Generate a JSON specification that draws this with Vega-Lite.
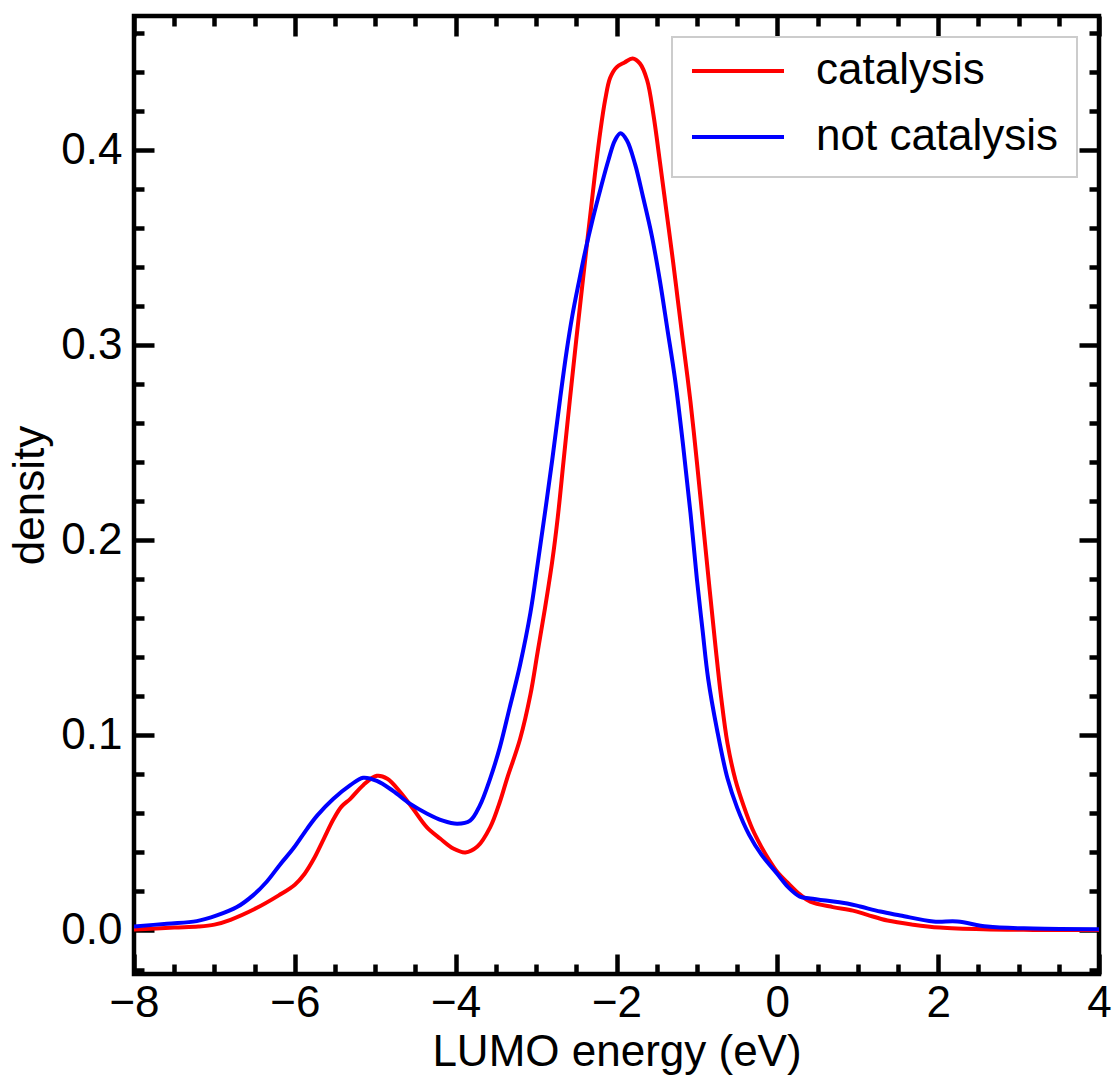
{
  "$schema": "https://vega.github.io/schema/vega-lite/v6.json",
  "width": 965,
  "height": 958,
  "autosize": "none",
  "padding": {"left": 134, "top": 16, "right": 16, "bottom": 104},
  "background": "white",
  "config": {
    "font": "Liberation Sans",
    "view": {"stroke": "black", "strokeWidth": 4.5},
    "axis": {"domain": false, "grid": false, "tickColor": "black", "tickWidth": 4.5, "labelFontSize": 44, "labelColor": "black", "titleFontSize": 44, "titleFontWeight": "normal", "titleColor": "black", "labelFont": "Liberation Sans", "titleFont": "Liberation Sans", "labelFlush": false, "labelOverlap": false}
  },
  "datasets": {
    "curves": [
      {"class": "catalysis", "energy": -8.0, "density": 0.0005},
      {"class": "catalysis", "energy": -7.5, "density": 0.0015},
      {"class": "catalysis", "energy": -7.2, "density": 0.002},
      {"class": "catalysis", "energy": -7.0, "density": 0.003},
      {"class": "catalysis", "energy": -6.8, "density": 0.0055},
      {"class": "catalysis", "energy": -6.5, "density": 0.011},
      {"class": "catalysis", "energy": -6.2, "density": 0.018},
      {"class": "catalysis", "energy": -6.0, "density": 0.0235},
      {"class": "catalysis", "energy": -5.88, "density": 0.029},
      {"class": "catalysis", "energy": -5.76, "density": 0.037},
      {"class": "catalysis", "energy": -5.64, "density": 0.047},
      {"class": "catalysis", "energy": -5.52, "density": 0.057},
      {"class": "catalysis", "energy": -5.42, "density": 0.0635},
      {"class": "catalysis", "energy": -5.31, "density": 0.0675},
      {"class": "catalysis", "energy": -5.15, "density": 0.0745},
      {"class": "catalysis", "energy": -4.98, "density": 0.0793},
      {"class": "catalysis", "energy": -4.85, "density": 0.0778},
      {"class": "catalysis", "energy": -4.69, "density": 0.071},
      {"class": "catalysis", "energy": -4.53, "density": 0.0624},
      {"class": "catalysis", "energy": -4.36, "density": 0.053},
      {"class": "catalysis", "energy": -4.19, "density": 0.047},
      {"class": "catalysis", "energy": -4.03, "density": 0.042},
      {"class": "catalysis", "energy": -3.88, "density": 0.04},
      {"class": "catalysis", "energy": -3.73, "density": 0.043},
      {"class": "catalysis", "energy": -3.57, "density": 0.053},
      {"class": "catalysis", "energy": -3.45, "density": 0.066},
      {"class": "catalysis", "energy": -3.36, "density": 0.078},
      {"class": "catalysis", "energy": -3.2, "density": 0.098},
      {"class": "catalysis", "energy": -3.07, "density": 0.121},
      {"class": "catalysis", "energy": -2.98, "density": 0.143},
      {"class": "catalysis", "energy": -2.89, "density": 0.165},
      {"class": "catalysis", "energy": -2.8, "density": 0.189},
      {"class": "catalysis", "energy": -2.73, "density": 0.212},
      {"class": "catalysis", "energy": -2.66, "density": 0.24},
      {"class": "catalysis", "energy": -2.58, "density": 0.272},
      {"class": "catalysis", "energy": -2.5, "density": 0.303},
      {"class": "catalysis", "energy": -2.43, "density": 0.329},
      {"class": "catalysis", "energy": -2.37, "density": 0.351},
      {"class": "catalysis", "energy": -2.32, "density": 0.369},
      {"class": "catalysis", "energy": -2.27, "density": 0.387},
      {"class": "catalysis", "energy": -2.2, "density": 0.41},
      {"class": "catalysis", "energy": -2.14, "density": 0.426},
      {"class": "catalysis", "energy": -2.08, "density": 0.437},
      {"class": "catalysis", "energy": -2.0, "density": 0.4425},
      {"class": "catalysis", "energy": -1.9, "density": 0.445},
      {"class": "catalysis", "energy": -1.8, "density": 0.447},
      {"class": "catalysis", "energy": -1.71, "density": 0.4445},
      {"class": "catalysis", "energy": -1.62, "density": 0.436},
      {"class": "catalysis", "energy": -1.54, "density": 0.418},
      {"class": "catalysis", "energy": -1.46, "density": 0.394},
      {"class": "catalysis", "energy": -1.38, "density": 0.369},
      {"class": "catalysis", "energy": -1.3, "density": 0.344},
      {"class": "catalysis", "energy": -1.24, "density": 0.324},
      {"class": "catalysis", "energy": -1.18, "density": 0.304},
      {"class": "catalysis", "energy": -1.08, "density": 0.271},
      {"class": "catalysis", "energy": -1.0, "density": 0.24},
      {"class": "catalysis", "energy": -0.92, "density": 0.207},
      {"class": "catalysis", "energy": -0.84, "density": 0.174},
      {"class": "catalysis", "energy": -0.77, "density": 0.146},
      {"class": "catalysis", "energy": -0.7, "density": 0.12},
      {"class": "catalysis", "energy": -0.62, "density": 0.096},
      {"class": "catalysis", "energy": -0.52, "density": 0.077},
      {"class": "catalysis", "energy": -0.42, "density": 0.064},
      {"class": "catalysis", "energy": -0.31, "density": 0.052},
      {"class": "catalysis", "energy": -0.2, "density": 0.043},
      {"class": "catalysis", "energy": -0.1, "density": 0.036},
      {"class": "catalysis", "energy": 0.0, "density": 0.03},
      {"class": "catalysis", "energy": 0.14, "density": 0.024},
      {"class": "catalysis", "energy": 0.28, "density": 0.0185},
      {"class": "catalysis", "energy": 0.41, "density": 0.0148},
      {"class": "catalysis", "energy": 0.69, "density": 0.012},
      {"class": "catalysis", "energy": 0.94, "density": 0.0102},
      {"class": "catalysis", "energy": 1.12, "density": 0.008},
      {"class": "catalysis", "energy": 1.37, "density": 0.0051},
      {"class": "catalysis", "energy": 1.69, "density": 0.003},
      {"class": "catalysis", "energy": 2.02, "density": 0.0015},
      {"class": "catalysis", "energy": 2.56, "density": 0.0006},
      {"class": "catalysis", "energy": 3.18, "density": 0.0003},
      {"class": "catalysis", "energy": 4.0, "density": 0.0002},
      {"class": "not catalysis", "energy": -8.0, "density": 0.002},
      {"class": "not catalysis", "energy": -7.59, "density": 0.0035},
      {"class": "not catalysis", "energy": -7.22, "density": 0.0048},
      {"class": "not catalysis", "energy": -6.97, "density": 0.0077},
      {"class": "not catalysis", "energy": -6.72, "density": 0.012},
      {"class": "not catalysis", "energy": -6.52, "density": 0.018},
      {"class": "not catalysis", "energy": -6.35, "density": 0.025},
      {"class": "not catalysis", "energy": -6.18, "density": 0.034},
      {"class": "not catalysis", "energy": -6.02, "density": 0.042},
      {"class": "not catalysis", "energy": -5.85, "density": 0.052},
      {"class": "not catalysis", "energy": -5.72, "density": 0.059},
      {"class": "not catalysis", "energy": -5.52, "density": 0.0675},
      {"class": "not catalysis", "energy": -5.31, "density": 0.0745},
      {"class": "not catalysis", "energy": -5.15, "density": 0.0783},
      {"class": "not catalysis", "energy": -4.98, "density": 0.0767},
      {"class": "not catalysis", "energy": -4.78, "density": 0.0716},
      {"class": "not catalysis", "energy": -4.57, "density": 0.065},
      {"class": "not catalysis", "energy": -4.36, "density": 0.06},
      {"class": "not catalysis", "energy": -4.16, "density": 0.0563},
      {"class": "not catalysis", "energy": -3.98, "density": 0.0547},
      {"class": "not catalysis", "energy": -3.82, "density": 0.0563},
      {"class": "not catalysis", "energy": -3.7, "density": 0.064},
      {"class": "not catalysis", "energy": -3.57, "density": 0.078},
      {"class": "not catalysis", "energy": -3.45, "density": 0.094},
      {"class": "not catalysis", "energy": -3.33, "density": 0.114},
      {"class": "not catalysis", "energy": -3.2, "density": 0.136},
      {"class": "not catalysis", "energy": -3.07, "density": 0.163},
      {"class": "not catalysis", "energy": -2.98, "density": 0.188},
      {"class": "not catalysis", "energy": -2.89, "density": 0.214},
      {"class": "not catalysis", "energy": -2.8, "density": 0.241},
      {"class": "not catalysis", "energy": -2.7, "density": 0.273},
      {"class": "not catalysis", "energy": -2.62, "density": 0.297},
      {"class": "not catalysis", "energy": -2.55, "density": 0.315},
      {"class": "not catalysis", "energy": -2.47, "density": 0.332},
      {"class": "not catalysis", "energy": -2.39, "density": 0.348},
      {"class": "not catalysis", "energy": -2.3, "density": 0.364},
      {"class": "not catalysis", "energy": -2.2, "density": 0.38},
      {"class": "not catalysis", "energy": -2.1, "density": 0.395},
      {"class": "not catalysis", "energy": -2.02, "density": 0.405},
      {"class": "not catalysis", "energy": -1.95, "density": 0.4087},
      {"class": "not catalysis", "energy": -1.87, "density": 0.405},
      {"class": "not catalysis", "energy": -1.77, "density": 0.393},
      {"class": "not catalysis", "energy": -1.67, "density": 0.376},
      {"class": "not catalysis", "energy": -1.56, "density": 0.356},
      {"class": "not catalysis", "energy": -1.46, "density": 0.333},
      {"class": "not catalysis", "energy": -1.37, "density": 0.309},
      {"class": "not catalysis", "energy": -1.27, "density": 0.282},
      {"class": "not catalysis", "energy": -1.17, "density": 0.248},
      {"class": "not catalysis", "energy": -1.08, "density": 0.214},
      {"class": "not catalysis", "energy": -1.0, "density": 0.18},
      {"class": "not catalysis", "energy": -0.93, "density": 0.154},
      {"class": "not catalysis", "energy": -0.86, "density": 0.129},
      {"class": "not catalysis", "energy": -0.75, "density": 0.103},
      {"class": "not catalysis", "energy": -0.62, "density": 0.078},
      {"class": "not catalysis", "energy": -0.5, "density": 0.063},
      {"class": "not catalysis", "energy": -0.35, "density": 0.049},
      {"class": "not catalysis", "energy": -0.2, "density": 0.039},
      {"class": "not catalysis", "energy": 0.0, "density": 0.029},
      {"class": "not catalysis", "energy": 0.14, "density": 0.022},
      {"class": "not catalysis", "energy": 0.28, "density": 0.0174},
      {"class": "not catalysis", "energy": 0.41, "density": 0.0164},
      {"class": "not catalysis", "energy": 0.87, "density": 0.0138},
      {"class": "not catalysis", "energy": 1.03, "density": 0.0123},
      {"class": "not catalysis", "energy": 1.28, "density": 0.0097},
      {"class": "not catalysis", "energy": 1.53, "density": 0.0077},
      {"class": "not catalysis", "energy": 1.94, "density": 0.0046},
      {"class": "not catalysis", "energy": 2.24, "density": 0.0046},
      {"class": "not catalysis", "energy": 2.61, "density": 0.002},
      {"class": "not catalysis", "energy": 3.18, "density": 0.001},
      {"class": "not catalysis", "energy": 4.0, "density": 0.0007}
    ]
  },
  "layer": [
    {
      "data": {"name": "curves"},
      "mark": {"type": "line", "strokeWidth": 4, "interpolate": "catmull-rom", "clip": true},
      "encoding": {
        "x": {
          "field": "energy", "type": "quantitative",
          "scale": {"domain": [-8, 4], "nice": false, "zero": false},
          "axis": {
            "orient": "bottom",
            "title": "LUMO energy (eV)",
            "titleBaseline": "alphabetic",
            "titleY": 91,
            "values": [-8, -7.5, -7, -6.5, -6, -5.5, -5, -4.5, -4, -3.5, -3, -2.5, -2, -1.5, -1, -0.5, 0, 0.5, 1, 1.5, 2, 2.5, 3, 3.5, 4],
            "labelExpr": "datum.value % 2 === 0 ? format(datum.value, 'd') : ''",
            "tickSize": {"condition": {"test": "datum.value % 2 === 0", "value": -20}, "value": -10},
            "labelPadding": 27
          }
        },
        "y": {
          "field": "density", "type": "quantitative",
          "scale": {"domain": [-0.0223, 0.4688], "nice": false, "zero": false},
          "axis": {
            "orient": "left",
            "title": "density",
            "titleBaseline": "alphabetic",
            "titleX": -91,
            "titleY": 479,
            "values": [-0.02, 0, 0.02, 0.04, 0.06, 0.08, 0.1, 0.12, 0.14, 0.16, 0.18, 0.2, 0.22, 0.24, 0.26, 0.28, 0.3, 0.32, 0.34, 0.36, 0.38, 0.4, 0.42, 0.44, 0.46],
            "labelExpr": "abs(datum.value * 10 - round(datum.value * 10)) < 0.000001 ? format(datum.value, '.1f') : ''",
            "tickSize": {"condition": {"test": "abs(datum.value * 10 - round(datum.value * 10)) < 0.000001", "value": -20}, "value": -10},
            "labelPadding": 32
          }
        },
        "color": {
          "field": "class", "type": "nominal",
          "scale": {"domain": ["catalysis", "not catalysis"], "range": ["#ff0000", "#0000ff"]},
          "legend": {
            "title": null,
            "orient": "none",
            "legendX": 538,
            "legendY": 21,
            "symbolType": "stroke",
            "symbolSize": 8464,
            "symbolStrokeWidth": 4,
            "clipHeight": 32,
            "rowPadding": 22,
            "labelFontSize": 44,
            "labelLimit": 0,
            "labelColor": "black",
            "labelFont": "Liberation Sans",
            "labelOffset": 30,
            "padding": 18,
            "fillColor": "white",
            "strokeColor": "#cccccc",
            "encode": {"legend": {"update": {"strokeWidth": {"value": 2}}}}
          }
        }
      }
    },
    {
      "data": {"name": "curves"},
      "mark": {"type": "point", "opacity": 0},
      "encoding": {
        "x": {
          "field": "energy", "type": "quantitative",
          "scale": {"domain": [-8, 4], "nice": false, "zero": false},
          "axis": {
            "orient": "top",
            "title": null,
            "labels": false,
            "values": [-8, -7.5, -7, -6.5, -6, -5.5, -5, -4.5, -4, -3.5, -3, -2.5, -2, -1.5, -1, -0.5, 0, 0.5, 1, 1.5, 2, 2.5, 3, 3.5, 4],
            "tickSize": {"condition": {"test": "datum.value % 2 === 0", "value": -20}, "value": -10}
          }
        },
        "y": {
          "field": "density", "type": "quantitative",
          "scale": {"domain": [-0.0223, 0.4688], "nice": false, "zero": false},
          "axis": {
            "orient": "right",
            "title": null,
            "labels": false,
            "values": [-0.02, 0, 0.02, 0.04, 0.06, 0.08, 0.1, 0.12, 0.14, 0.16, 0.18, 0.2, 0.22, 0.24, 0.26, 0.28, 0.3, 0.32, 0.34, 0.36, 0.38, 0.4, 0.42, 0.44, 0.46],
            "tickSize": {"condition": {"test": "abs(datum.value * 10 - round(datum.value * 10)) < 0.000001", "value": -20}, "value": -10}
          }
        }
      }
    }
  ],
  "resolve": {
    "scale": {"x": "independent", "y": "independent"},
    "axis": {"x": "independent", "y": "independent"}
  }
}
